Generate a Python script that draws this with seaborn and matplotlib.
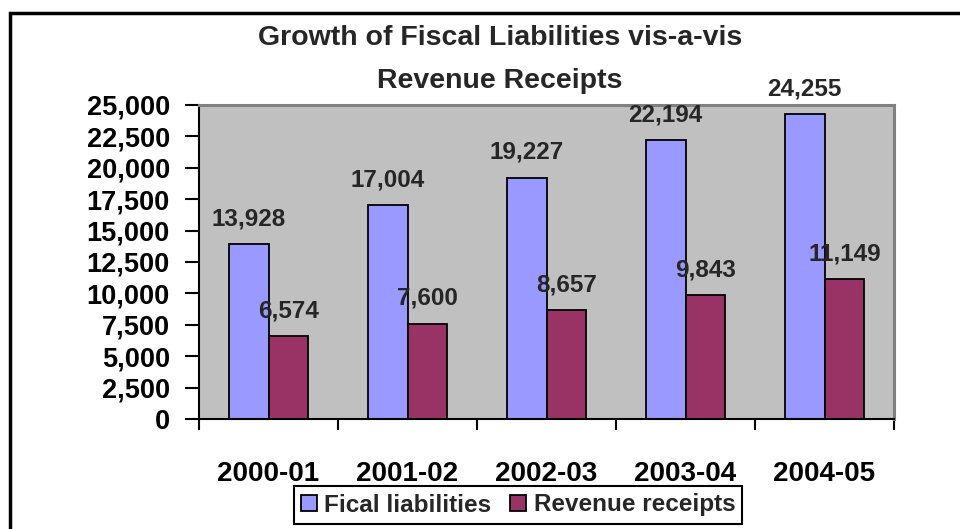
import matplotlib
matplotlib.use("Agg")
import matplotlib.pyplot as plt
import seaborn as sns
import pandas as pd
from matplotlib.patches import Rectangle, Patch
from matplotlib.ticker import FuncFormatter, FixedLocator

years = ["2000-01", "2001-02", "2002-03", "2003-04", "2004-05"]
fiscal_liabilities = [13928, 17004, 19227, 22194, 24255]
revenue_receipts = [6574, 7600, 8657, 9843, 11149]
series_names = ["Fical liabilities", "Revenue receipts"]
colors = ["#9999FF", "#993366"]
title_lines = ["Growth of Fiscal Liabilities vis-a-vis", "Revenue Receipts"]

df = pd.DataFrame({
    "year": years * 2,
    "value": fiscal_liabilities + revenue_receipts,
    "series": [series_names[0]] * len(years) + [series_names[1]] * len(years),
})

sns.set_style("white", {"xtick.bottom": True, "ytick.left": True})
plt.rcParams["font.family"] = ["Liberation Sans", "DejaVu Sans"]
plt.rcParams["font.weight"] = "bold"
plt.rcParams["ytick.left"] = True
plt.rcParams["xtick.bottom"] = True
plt.rcParams["ytick.color"] = "black"
plt.rcParams["xtick.color"] = "black"

W, H = 960, 529
fig = plt.figure(figsize=(9.6, 5.29), dpi=100)
ax = fig.add_axes([199 / W, 1 - 419 / H, 695 / W, 314 / H])

sns.barplot(data=df, x="year", y="value", hue="series", order=years,
            hue_order=series_names, palette=colors, width=0.575, gap=0,
            edgecolor="black", linewidth=1.3, saturation=1, ax=ax, legend=False)

ax.set_facecolor("#C0C0C0")
ax.set_xlim(-0.5, len(years) - 0.5)
ax.set_ylim(0, 25000)
ax.set_xlabel("")
ax.set_ylabel("")

ax.yaxis.set_major_locator(FixedLocator(list(range(0, 25001, 2500))))
ax.yaxis.set_major_formatter(FuncFormatter(lambda v, p: f"{int(v):,}"))
ax.yaxis.set_ticks_position("left")
ax.tick_params(axis="y", which="major", left=True, direction="out", length=10, width=1.5,
               color="black", pad=11, labelsize=19.5)
for lab in ax.get_yticklabels():
    lab.set_fontweight("bold")

# x: major ticks at boundaries, labels on minor ticks at centers
ax.set_xticks([i - 0.5 for i in range(len(years) + 1)])
ax.set_xticklabels([""] * (len(years) + 1))
ax.set_xticks(list(range(len(years))), minor=True)
ax.set_xticklabels(years, minor=True, fontsize=20, fontweight="bold")
ax.tick_params(axis="x", which="major", bottom=True, direction="out", length=8, width=1.5,
               color="black")
ax.tick_params(axis="x", which="minor", bottom=True, length=0, pad=30)

for s in ["left", "bottom"]:
    ax.spines[s].set_color("black")
    ax.spines[s].set_linewidth(1.5)
for s in ["top", "right"]:
    ax.spines[s].set_color("#808080")
    ax.spines[s].set_linewidth(2.2)

for cont in ax.containers:
    for bar in cont:
        h = bar.get_height()
        ax.annotate(f"{int(round(h)):,}", (bar.get_x() + bar.get_width() / 2, h),
                    xytext=(0, 13.5), textcoords="offset points",
                    ha="center", va="baseline", fontsize=17.5, fontweight="bold",
                    annotation_clip=False)

fig.text(500 / W, 1 - 45 / H, title_lines[0], ha="center", va="baseline",
         fontsize=20.5, fontweight="bold")
fig.text(500 / W, 1 - 88 / H, title_lines[1], ha="center", va="baseline",
         fontsize=20.5, fontweight="bold")

handles = [Patch(facecolor=c, edgecolor="black", linewidth=1.3) for c in colors]
leg = fig.legend(handles, series_names, loc="center",
                 bbox_to_anchor=(518 / W, 1 - 505 / H), ncol=2,
                 prop={"family": "Liberation Sans", "weight": "bold", "size": 17.5},
                 frameon=True, fancybox=False, framealpha=1, edgecolor="black",
                 handlelength=0.65, handleheight=0.65, handletextpad=0.3,
                 columnspacing=0.8, borderpad=0.3, borderaxespad=0)
leg.get_frame().set_linewidth(1.5)

fig.patches.append(Rectangle((10 / W, -0.1), 1.2, 1.1 - 13 / H, transform=fig.transFigure,
                             fill=False, edgecolor="black", linewidth=2.5))

fig.savefig("out.png", dpi=100, facecolor="white")
